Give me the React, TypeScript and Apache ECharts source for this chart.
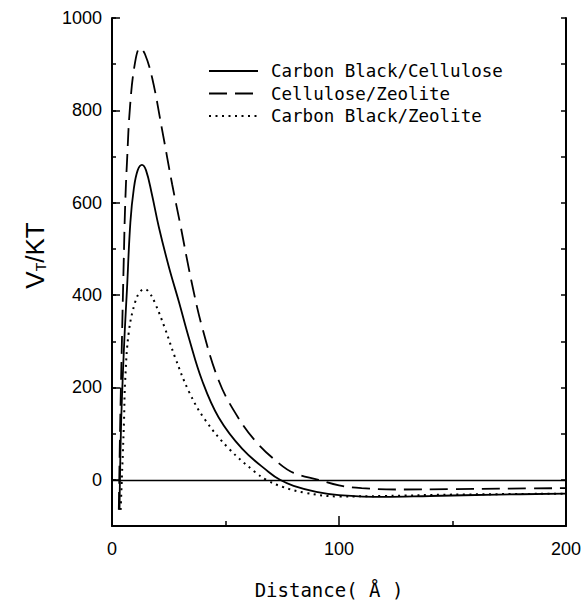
import React, { useEffect, useRef } from "react";
import * as echarts from "echarts";

// Carbon Black/Cellulose (solid)
const distCbCel = [3.3, 3.5, 4, 4.8, 5.6, 6.6, 8.1, 9.6, 11.3, 13.2, 15, 17.5, 20.6, 25, 29.5, 34, 39.7, 47, 57.4, 69, 74, 80, 90, 100, 120, 140, 170, 200];
const vtCbCel = [-65, 0, 120, 230, 320, 413, 558, 630, 670, 682, 670, 620, 548, 462, 385, 305, 215, 135, 67, 17, 0, -13, -26, -33, -37, -35, -32, -30];

// Cellulose/Zeolite (dashed)
const distCelZeo = [3.0, 3.2, 3.6, 4.5, 5.2, 5.8, 6.6, 8, 10.2, 12.4, 14.5, 17.7, 22, 26.5, 30, 35, 40, 47, 54.3, 63, 73.7, 80, 91, 100, 110, 125, 150, 175, 200];
const vtCelZeo = [-65, 0, 120, 330, 480, 595, 688, 812, 905, 935, 922, 870, 760, 640, 555, 430, 325, 215, 145, 85, 35, 15, 0, -12, -18, -21, -20, -19, -18];

// Carbon Black/Zeolite (dotted)
const distCbZeo = [3.8, 4, 4.4, 4.8, 5.3, 5.8, 7.4, 10.2, 12.5, 14.5, 16.5, 19, 23.4, 27.8, 34, 41, 51.6, 63, 68, 75, 85, 100, 120, 150, 200];
const vtCbZeo = [-65, -41, 11, 60, 130, 215, 320, 385, 408, 413, 405, 382, 327, 265, 190, 130, 67, 17, 0, -15, -28, -36, -35, -32, -30];

const seriesNames = ["Carbon Black/Cellulose", "Cellulose/Zeolite", "Carbon Black/Zeolite"];
const xTickValues = [0, 100, 200];
const yLabelValues = [0, 200, 400, 600, 800, 1000];
const yMin = -100;
const yMax = 1000;
const xMin = 0;
const xMax = 200;

const zip = (xs: number[], ys: number[]) => xs.map((x, i) => [x, ys[i]]);

export default function App() {
  const ref = useRef<HTMLDivElement>(null);
  useEffect(() => {
    if (!ref.current) return;
    const chart = echarts.init(ref.current, undefined, { renderer: "svg" });
    const sans = "Liberation Sans, Arial, sans-serif";
    const labelFont = { fontFamily: sans, fontSize: 18, color: "#000" };
    const monoFont = "DejaVu Sans Mono, monospace";
    const lineBase = { color: "#000", width: 1.8 };
    chart.setOption({
      animation: false,
      backgroundColor: "#fff",
      grid: { left: 112, right: 22, top: 18, bottom: 82, containLabel: false },
      legend: {
        orient: "vertical",
        left: 208,
        top: 62,
        padding: 0,
        itemWidth: 49,
        itemHeight: 20,
        itemGap: 4.5,
        data: seriesNames,
        itemStyle: { opacity: 0 },
        formatter: (name: string) => `{t|${name}}`,
        textStyle: {
          color: "#000",
          fontFamily: monoFont,
          fontSize: 17.5,
          rich: { t: { padding: [0, 0, 0, 8], fontFamily: monoFont, fontSize: 17.5, color: "#000" } },
        },
      },
      xAxis: {
        type: "value",
        min: xMin,
        max: xMax,
        interval: 100,
        name: "Distance( Å )",
        nameLocation: "middle",
        nameGap: 54,
        nameTextStyle: { fontFamily: monoFont, fontSize: 19, color: "#000", padding: [0, 20, 0, 0] },
        axisLine: { show: true, onZero: false, lineStyle: { color: "#000", width: 2 } },
        axisTick: { show: true, inside: true, length: 10, lineStyle: { color: "#000", width: 1.5 }, customValues: xTickValues },
        minorTick: { show: true, splitNumber: 2, length: 5, lineStyle: { color: "#000", width: 1.5 } },
        axisLabel: { ...labelFont, margin: 14, customValues: xTickValues, formatter: (v: number) => String(v) },
        splitLine: { show: false },
        minorSplitLine: { show: false },
      },
      yAxis: [
        {
          type: "value",
          position: "left",
          min: yMin,
          max: yMax,
          interval: 100,
          name: "V{s|T}/KT",
          nameLocation: "middle",
          nameGap: 64,
          nameRotate: 90,
          nameTextStyle: {
            fontFamily: sans,
            fontSize: 26,
            color: "#000",
            padding: [0, 0, 0, 33],
            rich: { s: { fontSize: 14, verticalAlign: "bottom", padding: [12, 0, 0, 0], fontFamily: sans, color: "#000" } },
          },
          axisLine: { show: true, onZero: false, lineStyle: { color: "#000", width: 2 } },
          axisTick: { show: true, inside: true, length: 4, lineStyle: { color: "#000", width: 1.5 } },
          axisLabel: { ...labelFont, margin: 10, customValues: yLabelValues, formatter: (v: number) => String(v) },
          splitLine: { show: false },
        },
        {
          type: "value",
          position: "left",
          min: yMin,
          max: yMax,
          interval: 100,
          axisLine: { show: false },
          axisTick: { show: true, inside: true, length: 8, lineStyle: { color: "#000", width: 1.5 }, customValues: yLabelValues },
          axisLabel: { show: false },
          splitLine: { show: false },
        },
        {
          type: "value",
          position: "right",
          min: yMin,
          max: yMax,
          interval: 100,
          axisLine: { show: true, onZero: false, lineStyle: { color: "#000", width: 2 } },
          axisTick: { show: true, inside: true, length: 5, lineStyle: { color: "#000", width: 1.5 } },
          axisLabel: { show: false },
          splitLine: { show: false },
        },
      ],
      series: [
        {
          name: seriesNames[0],
          type: "line",
          data: zip(distCbCel, vtCbCel),
          showSymbol: false,
          symbol: "none",
          smooth: 0.4,
          lineStyle: { ...lineBase, type: "solid" },
          itemStyle: { color: "#000" },
          markLine: {
            silent: true,
            symbol: ["none", "none"],
            label: { show: false },
            lineStyle: { color: "#000", width: 1.3, type: "solid" },
            data: [{ yAxis: 0 }],
          },
        },
        {
          name: seriesNames[1],
          type: "line",
          data: zip(distCelZeo, vtCelZeo),
          showSymbol: false,
          symbol: "none",
          smooth: 0.4,
          lineStyle: { ...lineBase, type: [18, 8] },
          itemStyle: { color: "#000" },
        },
        {
          name: seriesNames[2],
          type: "line",
          data: zip(distCbZeo, vtCbZeo),
          showSymbol: false,
          symbol: "none",
          smooth: 0.4,
          lineStyle: { ...lineBase, width: 2, type: [2, 4.5] },
          itemStyle: { color: "#000" },
        },
      ],
    });
    return () => chart.dispose();
  }, []);
  return <div ref={ref} style={{ position: "fixed", left: 0, top: 0, width: 588, height: 608 }} />;
}
